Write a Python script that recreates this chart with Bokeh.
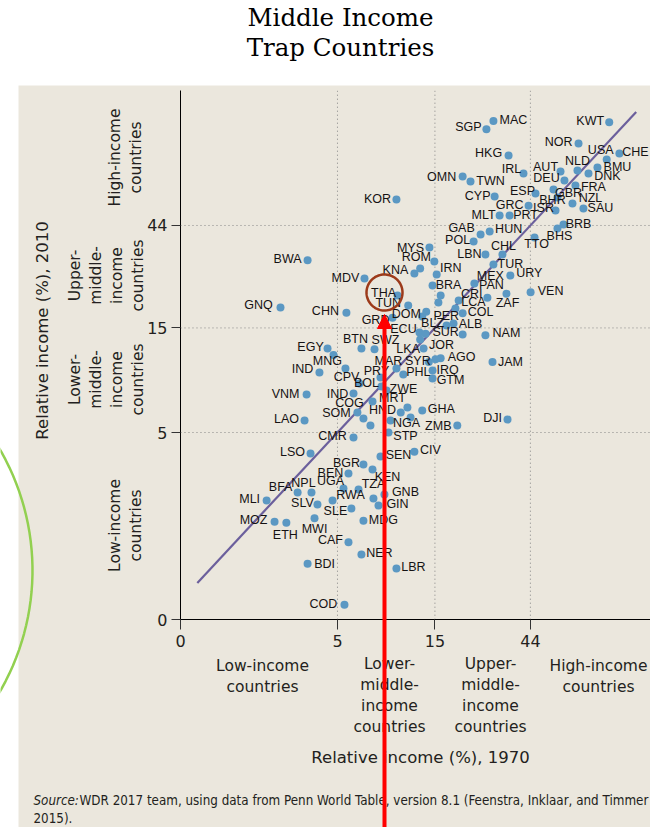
import numpy as np
from bokeh.plotting import figure
from bokeh.models import (Range1d, FixedTicker, CustomJSTickFormatter, Label, BoxAnnotation,
                          PolyAnnotation, Arrow, NormalHead, ColumnDataSource)
from bokeh.core.properties import value
from bokeh.embed import file_html
from bokeh.resources import INLINE

# ---------------- data ----------------
codes = ["MAC", "SGP", "KWT", "NOR", "HKG", "USA", "CHE", "NLD", "BMU", "DNK",
         "AUT", "IRL", "OMN", "TWN", "DEU", "FRA", "CYP", "ESP", "GBR", "BHR",
         "NZL", "SAU", "GRC", "ISR", "MLT", "PRT", "BRB", "BHS", "GAB", "HUN",
         "POL", "TTO", "CHL", "LBN", "TUR", "KOR", "BWA", "MYS", "ROM", "KNA",
         "MDV", "THA", "GNQ", "CHN", "TUN", "GRD", "DOM", "ECU", "PER", "BLZ",
         "ALB", "SUR", "NAM", "LKA", "JOR", "SYR", "AGO", "JAM", "MAR", "PHL",
         "IRQ", "GTM", "PRY", "CPV", "BOL", "MNG", "EGY", "IND", "BTN", "SWZ",
         "VNM", "IND", "ZWE", "MRT", "COG", "SOM", "HND", "GHA", "NGA", "ZMB",
         "STP", "LAO", "CMR", "DJI", "CIV", "SEN", "LSO", "BGR", "BEN", "KEN",
         "UGA", "NPL", "BFA", "TZA", "MLI", "GNB", "RWA", "SLV", "GIN", "SLE",
         "MOZ", "ETH", "MWI", "MDG", "CAF", "NER", "BDI", "LBR", "COD", "IRN",
         "BRA", "MEX", "URY", "PAN", "ZAF", "VEN", "CRI", "LCA", "COL",
         "", "", "", "", "", "", "", "", "", ""]

inc_1970 = [29.0, 26.8, 107, 75.7, 34.4, 104, 120, 74.8, 93.7, 84.7,
            61.8, 40.7, 20.5, 22.4, 64.6, 73.1, 29.4, 46.6, 57.1, 59.7,
            70.7, 80.0, 43.1, 58.4, 31.1, 34.8, 63.9, 59.7, 25.1, 27.8,
            23.2, 46.1, 32.1, 26.5, 29.0, 9.72, 3.57, 14.1, 14.9, 11.9,
            6.78, 9.84, 2.63, 5.53, 11.1, 9.30, 13.0, 12.6, 13.6, 17.1,
            18.5, 20.5, 26.5, 12.7, 13.2, 14.0, 16.0, 28.7, 9.72, 10.5,
            14.6, 14.6, 8.12, 6.41, 8.21, 5.47, 4.47, 4.08, 6.55, 7.59,
            3.53, 5.99, 8.69, 7.42, 6.26, 6.70, 11.0, 13.0, 9.09, 19.3,
            8.89, 3.45, 5.99, 34.0, 11.9, 8.12, 3.69, 6.70, 5.66, 7.42,
            5.35, 3.73, 3.19, 6.34, 2.25, 8.49, 4.73, 3.99, 7.94, 5.85,
            2.46, 2.81, 3.86, 6.70, 5.66, 6.55, 3.57, 9.72, 5.41, 15.3,
            14.6, 23.4, 35.1, 27.1, 33.6, 44.1, 19.6, 18.9, 20.5,
            12.7, 4.78, 7.50, 15.6, 13.5, 16.0, 11.4, 10.2, 7.25, 15.1]

inc_2010 = [132, 121, 130, 104, 91.8, 88.0, 93.7, 78.4, 80.9, 76.0,
            77.6, 76.0, 73.6, 69.8, 70.6, 67.0, 59.6, 61.6, 64.2, 59.0,
            55.4, 52.6, 54.2, 51.5, 48.8, 48.8, 44.4, 42.6, 40.0, 41.3,
            37.2, 38.8, 32.4, 32.4, 29.2, 57.8, 30.5, 34.9, 30.1, 26.6,
            25.2, 21.1, 18.6, 17.6, 19.0, 16.7, 16.9, 14.3, 17.8, 15.4,
            15.7, 14.0, 13.9, 13.3, 12.1, 10.5, 10.9, 10.5, 9.79, 9.20,
            9.59, 8.82, 8.91, 8.37, 8.11, 9.79, 12.1, 9.39, 12.1, 12.0,
            7.45, 7.53, 7.77, 6.93, 6.17, 5.79, 6.50, 6.30, 5.67, 5.38,
            5.00, 5.67, 4.74, 5.73, 4.09, 3.89, 4.01, 3.57, 3.25, 3.39,
            2.78, 2.66, 2.66, 2.75, 2.45, 2.61, 2.45, 2.35, 2.32, 2.25,
            1.96, 1.94, 2.03, 1.98, 1.58, 1.39, 1.26, 1.20, 0.82, 26.3,
            23.4, 23.9, 26.0, 20.6, 21.5, 21.8, 20.0, 18.4, 17.5,
            28.0, 11.3, 2.50, 19.6, 14.1, 21.1, 5.85, 6.17, 5.38, 10.8]

# label offsets in screen pixels (right, down)
label_dx = [20, -18, -19, -20, -20, -6, 16, 0, 20, 19,
            -15, -12, -21, 20, -18, 18, -17, -13, 15, -5,
            18, 17, -19, -12, -16, 16, 15, 2, -19, 19,
            -16, 2, 1, -16, 17, -19, -20, -19, -18, -19,
            -19, -14, -22, -21, -20, -17, -16, -16, 20, -14,
            17, -17, 21, -12, 18, -11, 21, 18, -8, 15,
            15, 18, -4, -13, -15, -18, -17, -17, -6, 11,
            -21, -16, 17, 20, -8, -27, -25, 19, 16, -19,
            17, -18, -21, -15, 16, 18, -18, -17, -18, 15,
            -13, -8, -17, 15, -17, 21, 18, -15, 19, -16,
            -21, -1, 0, 20, -18, 18, 17, 17, -21, 14,
            16, 16, 19, 4, 1, 20, 13, 18, 18,
            0, 0, 0, 0, 0, 0, 0, 0, 0, 0]
label_dy = [-1, -2, -1, -2, -2, -9, -2, -9, 0, 3,
            -4, -4, 0, -1, -2, 2, -1, -2, 3, 2,
            -6, 0, -1, -2, -1, -1, -1, 7, -7, -3,
            -1, 7, -9, -1, -1, -1, -1, 0, -5, -3,
            -1, -2, -2, -2, -2, 2, -3, -3, 4, -2,
            0, -2, -2, 10, -3, -1, -1, 0, -8, -2,
            -1, 2, -7, -6, -3, -8, -1, -4, -9, -9,
            -1, 0, -2, -3, -9, -6, 2, -2, 2, 0,
            3, -2, -2, -2, -2, -1, -2, -2, -1, 7,
            -7, -10, -6, -5, -1, -2, -5, -1, -2, 2,
            -2, 12, 11, -1, -2, -1, 0, -1, -1, -6,
            -1, -8, -3, -13, 9, -1, -7, -6, -1,
            0, 0, 0, 0, 0, 0, 0, 0, 0, 0]

diag = [1.03, 145]
tick_vals_x = [0.852, 5, 15, 44]
tick_vals_y = [0.70, 5, 15, 44]
grid_vals = [5, 15, 44]
x_bounds = (0.852, 170.4)   # plotted region of the chart (x)
y_bounds = (0.70, 181)      # plotted region of the chart (y)

# ---------------- styling ----------------
BEIGE = "#ebe7dd"
DARK = "#231f20"
SANS = "DejaVu Sans"
W, H = 650, 827

# frame covers the whole canvas; axes are pinned inside with fixed_location
p = figure(width=W, height=H, x_axis_type="log", y_axis_type="log",
           x_range=Range1d(0.1120, 170.4), y_range=Range1d(0.0789, 467.5),
           output_backend="svg", toolbar_location=None,
           min_border_left=0, min_border_right=0, min_border_top=0, min_border_bottom=0,
           background_fill_color="white", border_fill_color="white")
p.outline_line_color = None
p.xgrid.visible = False
p.ygrid.visible = False

# beige picture area
p.add_layout(BoxAnnotation(left=18, right=W, top=85, bottom=H,
                           left_units="canvas", right_units="canvas",
                           top_units="canvas", bottom_units="canvas",
                           fill_color=BEIGE, fill_alpha=1, line_color=None, level="image"))

fmt = CustomJSTickFormatter(code="return tick < 1 ? '0' : tick.toFixed(0);")
for ax, tv in ((p.xaxis[0], tick_vals_x), (p.yaxis[0], tick_vals_y)):
    ax.ticker = FixedTicker(ticks=tv)
    ax.formatter = fmt
    ax.axis_line_color = "black"
    ax.major_tick_line_color = "#333333"
    ax.major_tick_in = 0
    ax.minor_tick_line_color = None
    ax.major_label_text_font = SANS
    ax.major_label_text_font_size = "16px"
    ax.major_label_text_color = DARK
p.xaxis[0].fixed_location = y_bounds[0]
p.xaxis[0].bounds = x_bounds
p.yaxis[0].fixed_location = x_bounds[0]
p.yaxis[0].bounds = y_bounds
p.xaxis.major_tick_out = 10
p.xaxis.major_label_standoff = 5
p.yaxis.major_tick_out = 9
p.yaxis.major_label_standoff = 4

# dotted grid lines, limited to the chart region
n = len(grid_vals)
p.segment(x0=grid_vals, x1=grid_vals, y0=[y_bounds[0]] * n, y1=[y_bounds[1]] * n,
          line_color="#858585", line_dash="1 3", line_width=1)
p.segment(x0=[x_bounds[0]] * n, x1=[x_bounds[1]] * n, y0=grid_vals, y1=grid_vals,
          line_color="#858585", line_dash="1 3", line_width=1)

src = ColumnDataSource(dict(x=inc_1970, y=inc_2010, code=codes, dx=label_dx, dy=label_dy))

p.line(diag, diag, line_color="#6b5f9c", line_width=2.2)
p.scatter("x", "y", source=src, size=8, fill_color="#5b98c3", line_color=None)
p.text("x", "y", text="code", x_offset="dx", y_offset="dy", source=src,
       text_font=value("Liberation Sans"), text_font_size=value("12.5px"),
       text_align="center", text_baseline="middle", text_color="#151213")


def lab(text, x, y, size, font=SANS, angle=0.0, align="center", style="normal", color=DARK):
    p.add_layout(Label(x=x, y=y, x_units="canvas", y_units="canvas", text=text,
                       text_font=font, text_font_size=size, angle=angle,
                       text_align=align, text_baseline="middle", text_font_style=style,
                       text_color=color, text_line_height=1.17))


# title
lab("Middle Income", 340, 17, "24.5px", font="DejaVu Serif", color="black")
lab("Trap Countries", 340, 47, "24.5px", font="DejaVu Serif", color="black")

# x-axis category labels
lab("Low-income\ncountries", 262, 676, "15.5px")
lab("Lower-\nmiddle-\nincome\ncountries", 389, 695, "15.5px")
lab("Upper-\nmiddle-\nincome\ncountries", 490, 695, "15.5px")
lab("High-income\ncountries", 598, 676, "15.5px")
lab("Relative income (%), 1970", 420, 757, "16.5px")

# y-axis category labels
R = np.pi / 2
lab("High-income\ncountries", 125, 157, "15.5px", angle=R)
lab("Upper-\nmiddle-\nincome\ncountries", 106, 275, "15.5px", angle=R)
lab("Lower-\nmiddle-\nincome\ncountries", 106, 379, "15.5px", angle=R)
lab("Low-income\ncountries", 125, 525, "15.5px", angle=R)
lab("Relative income (%), 2010", 42, 330, "16.5px", angle=R)

# source
NARROW = "'Liberation Sans Narrow', 'DejaVu Sans Condensed', sans-serif"
lab("Source:", 33, 800, "13.3px", font=NARROW, align="left", style="italic")
lab("WDR 2017 team, using data from Penn World Table, version 8.1 (Feenstra, Inklaar, and Timmer",
    79, 800, "13.3px", font=NARROW, align="left")
lab("2015).", 33, 818, "13.3px", font=NARROW, align="left")

# decorations: green arc, brown circle around THA, red arrow
t = np.linspace(-np.pi / 2, np.pi / 2, 90)
p.add_layout(PolyAnnotation(xs=list(-209 + 241 * np.cos(t)), ys=list(570 + 241 * np.sin(t)),
                            xs_units="canvas", ys_units="canvas", fill_alpha=0,
                            line_color="#92d050", line_alpha=1, line_width=2.5, level="overlay"))
t2 = np.linspace(0, 2 * np.pi, 80)
p.add_layout(PolyAnnotation(xs=list(384 + 18 * np.cos(t2)), ys=list(292 + 18 * np.sin(t2)),
                            xs_units="canvas", ys_units="canvas", fill_alpha=0,
                            line_color="#9c3a1a", line_alpha=1, line_width=2.5, level="overlay"))
p.add_layout(Arrow(end=NormalHead(size=14, fill_color="#ff0000", line_color="#ff0000"),
                   x_start=384, y_start=840, x_end=384, y_end=314,
                   start_units="canvas", end_units="canvas",
                   line_color="#ff0000", line_width=4, level="overlay"))

open("out.html", "w").write(file_html(p, INLINE))
